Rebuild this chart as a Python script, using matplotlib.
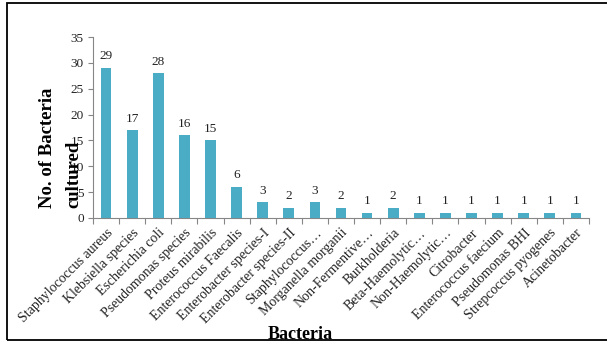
import numpy as np
import matplotlib
matplotlib.use("Agg")
import matplotlib.pyplot as plt
from matplotlib.patches import Rectangle


bacteria = [
    "Staphylococcus aureus", "Klebsiella species", "Escherichia coli",
    "Pseudomonas species", "Proteus mirabilis", "Enterococcus Faecalis",
    "Enterobacter species-I", "Enterobacter species-II", "Staphylococcus\u2026",
    "Morganella morganii", "Non-Fermentive\u2026", "Burkholderia",
    "Beta-Haemolytic\u2026", "Non-Haemolytic\u2026", "Citrobacter",
    "Enterococcus faecium", "Pseudomonas BHI", "Strepcoccus pyogenes",
    "Acinetobacter",
]
counts = [29, 17, 28, 16, 15, 6, 3, 2, 3, 2, 1, 2, 1, 1, 1, 1, 1, 1, 1]
y_ticks = [0, 5, 10, 15, 20, 25, 30, 35]

BAR_COLOR = "#4BACC6"
AXIS_GRAY = "#868686"
W, H = 607, 343


def main():
    plt.rcParams["font.family"] = ["Liberation Serif", "DejaVu Serif"]
    fig = plt.figure(figsize=(W / 100, H / 100), dpi=100)
    ax = fig.add_axes([93 / W, 1 - 218 / H, (589 - 93) / W, (218 - 37) / H])

    x = np.arange(len(bacteria))
    ax.bar(x, counts, width=0.41, color=BAR_COLOR, zorder=2)
    for xi, c in zip(x, counts):
        ax.annotate(str(c), (xi, c), xytext=(0, 4), textcoords="offset points",
                    ha="center", va="bottom", fontsize=9.5, color="#222222")

    ax.set_xlim(-0.5, len(bacteria) - 0.5)
    ax.set_ylim(0, 35)
    ax.set_yticks(y_ticks)
    ax.tick_params(axis="y", labelsize=9.5, length=3.6, width=0.8,
                   color=AXIS_GRAY, pad=3, labelcolor="#222222")

    # labels at the bar centres, tick marks between categories
    ax.set_xticks(x)
    ax.set_xticklabels(bacteria, rotation=45, ha="right",
                       rotation_mode="anchor", fontsize=10, color="#222222")
    ax.tick_params(axis="x", which="major", length=0, pad=6)
    ax.set_xticks(np.arange(len(bacteria) + 1) - 0.5, minor=True)
    ax.tick_params(axis="x", which="minor", length=4, width=0.8,
                   color=AXIS_GRAY)

    for side in ("top", "right"):
        ax.spines[side].set_visible(False)
    for side in ("left", "bottom"):
        ax.spines[side].set_color(AXIS_GRAY)
        ax.spines[side].set_linewidth(0.8)

    fig.text(48 / W, 1 - 208 / H, "No. of Bacteria", rotation=90,
             ha="center", va="bottom", fontsize=13.5, fontweight="bold")
    fig.text(74 / W, 1 - 208 / H, "cultured", rotation=90,
             ha="center", va="bottom", fontsize=13.5, fontweight="bold")
    fig.text(300 / W, 1 - 339 / H, "Bacteria", ha="center", va="baseline",
             fontsize=13, fontweight="bold")

    frame = Rectangle((7 / W, 1 - 340 / H), 1.0, (340 - 3) / H,
                      transform=fig.transFigure, fill=False,
                      edgecolor="black", linewidth=1.3, clip_on=False,
                      zorder=10)
    fig.add_artist(frame)

    fig.savefig("out.png", dpi=100)


if __name__ == '__main__':
    main()
